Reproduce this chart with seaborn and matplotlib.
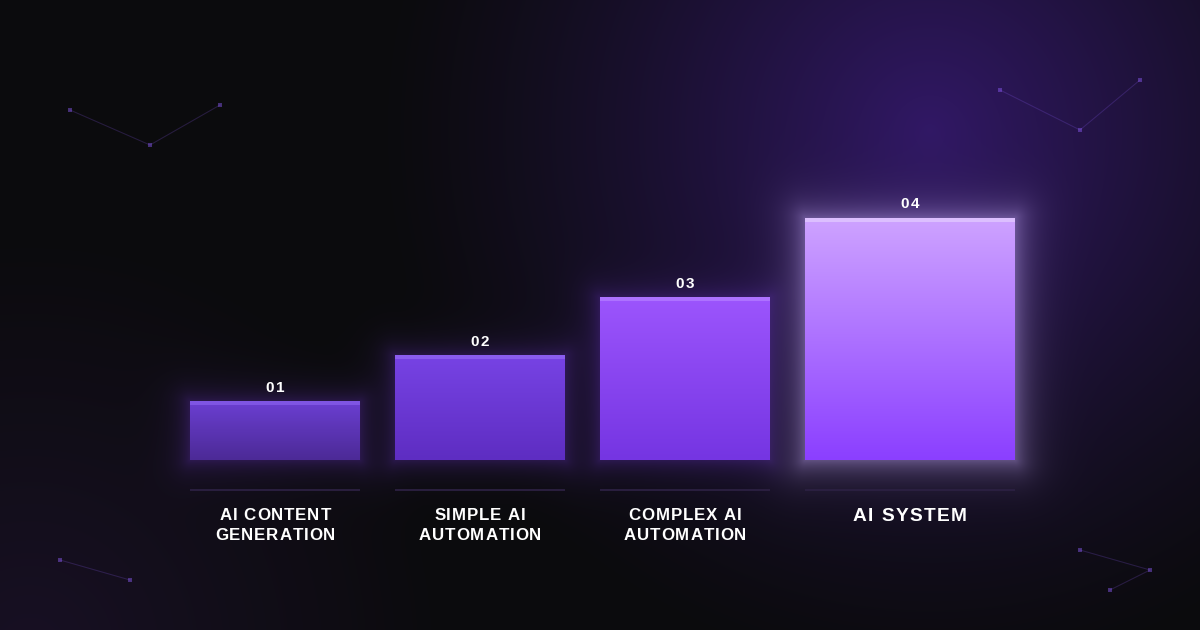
import numpy as np
import matplotlib.pyplot as plt
import seaborn as sns
from matplotlib.colors import to_rgb

# data
categories = ["AI CONTENT\nGENERATION", "SIMPLE AI\nAUTOMATION", "COMPLEX AI\nAUTOMATION", "AI SYSTEM"]
step_labels = ["01", "02", "03", "04"]
levels = [24, 43, 67, 100]

# colours per bar: highlight strip, top of gradient, bottom of gradient
strip_colors = ["#7f55e3", "#8a5cee", "#ad72ff", "#dcbfff"]
top_colors = ["#6b3fd2", "#7743e4", "#9c55fd", "#cea3ff"]
bottom_colors = ["#4c2a96", "#5e2dc2", "#7535e2", "#8b3fff"]

# layout, in pixels
W, H = 1200, 630
bar_left = [190, 395, 600, 805]
bar_width = [170, 170, 170, 210]
baseline = 460
px = 2.42  # pixels per level unit
font = ["Liberation Sans", "DejaVu Sans"]

# background picture: dark base + purple radial glows + bar glows
yy, xx = np.mgrid[0:H, 0:W] + 0.5
base = np.array(to_rgb("#0b0b0d"))
img = np.ones((H, W, 3)) * base
f = np.clip(1 - np.hypot(xx - 930, yy - 130) / 560, 0, 1) ** 1.3
img += f[..., None] * (np.array(to_rgb("#311865")) - base)
f2 = np.clip(1 - np.hypot(xx - 30, yy - 650) / 420, 0, 1)
img += f2[..., None] * (np.array(to_rgb("#181024")) - base)

for i, lv in enumerate(levels):
    x0, x1 = bar_left[i], bar_left[i] + bar_width[i]
    y0 = baseline - lv * px
    dx = np.maximum(np.maximum(x0 - xx, xx - x1), 0)
    dy = np.maximum(np.maximum(y0 - yy, yy - baseline), 0)
    d = np.hypot(dx, dy)
    if i == 3:
        g = 0.42 * np.exp(-d / 16)
        col = np.array(to_rgb("#c9adff"))
    else:
        g = 0.26 * np.exp(-d / 13)
        col = np.array(to_rgb("#7c3aed"))
    img = img * (1 - g[..., None]) + col * g[..., None]

fig = plt.figure(figsize=(12, 6.3), dpi=100)
bg = fig.add_axes([0, 0, 1, 1])
bg.imshow(np.clip(img, 0, 1), extent=(0, W, H, 0), interpolation="bilinear")
bg.set_xlim(0, W)
bg.set_ylim(H, 0)
bg.axis("off")

# constellation decorations
groups = [
    [(70, 110), (150, 145), (220, 105)],
    [(1000, 90), (1080, 130), (1140, 80)],
    [(60, 560), (130, 580)],
    [(1080, 550), (1150, 570), (1110, 590)],
]
for pts in groups:
    gx, gy = zip(*pts)
    bg.plot(gx, gy, color="#8b5cf6", alpha=0.22, lw=0.75)
    bg.scatter(gx, gy, s=5, marker="s", color="#8b5cf6", alpha=0.45, lw=0)

# bars
ax = fig.add_axes([0, 0, 1, 1])
ax.patch.set_alpha(0)
sns.barplot(x=categories, y=levels, hue=categories, palette=bottom_colors,
            saturation=1, legend=False, ax=ax)
for i, p in enumerate(ax.patches):
    p.set_x(bar_left[i])
    p.set_width(bar_width[i])
    p.set_linewidth(0)
    h = levels[i]
    n = int(round(h * px))
    t = np.linspace(0, 1, n)[:, None]
    grad = (1 - t) * np.array(to_rgb(top_colors[i])) + t * np.array(to_rgb(bottom_colors[i]))
    grad[:4] = to_rgb(strip_colors[i])
    ax.imshow(grad[:, None, :], extent=(bar_left[i], bar_left[i] + bar_width[i], 0, h),
              aspect="auto", interpolation="nearest", zorder=3)
ax.set_xlim(0, W)
ax.set_ylim(-(H - baseline) / px, baseline / px)
ax.axis("off")

renderer = fig.canvas.get_renderer()


def text_width(s, size):
    t = bg.text(0, 0, s, fontsize=size, family=font, weight="bold")
    w = t.get_window_extent(renderer).width
    t.remove()
    return w


def spaced_text(x, y, s, size, spacing):
    ref = text_width("HH", size)
    adv = [text_width("H" + c + "H", size) - ref for c in s]
    cur = x - (sum(adv) + spacing * (len(s) - 1)) / 2
    for c, a in zip(s, adv):
        bg.text(cur, y, c, ha="left", va="baseline", fontsize=size,
                family=font, weight="bold", color="white", zorder=5)
        cur += a + spacing


for i, lv in enumerate(levels):
    cx = bar_left[i] + bar_width[i] / 2
    top = baseline - lv * px
    spaced_text(cx, top - 10, step_labels[i], 11, 1.5)
    bg.plot([bar_left[i], bar_left[i] + bar_width[i]], [490, 490],
            color="#2c2042", lw=1.3, solid_capstyle="butt")
    lines = categories[i].split("\n")
    size = 13.8 if len(lines) == 1 else 12.2
    sp = 1.4 if len(lines) == 1 else 0.9
    for k, line in enumerate(lines):
        spaced_text(cx, 520 + 20 * k + (1 if len(lines) == 1 else 0), line, size, sp)

fig.savefig("out.png", dpi=100)
